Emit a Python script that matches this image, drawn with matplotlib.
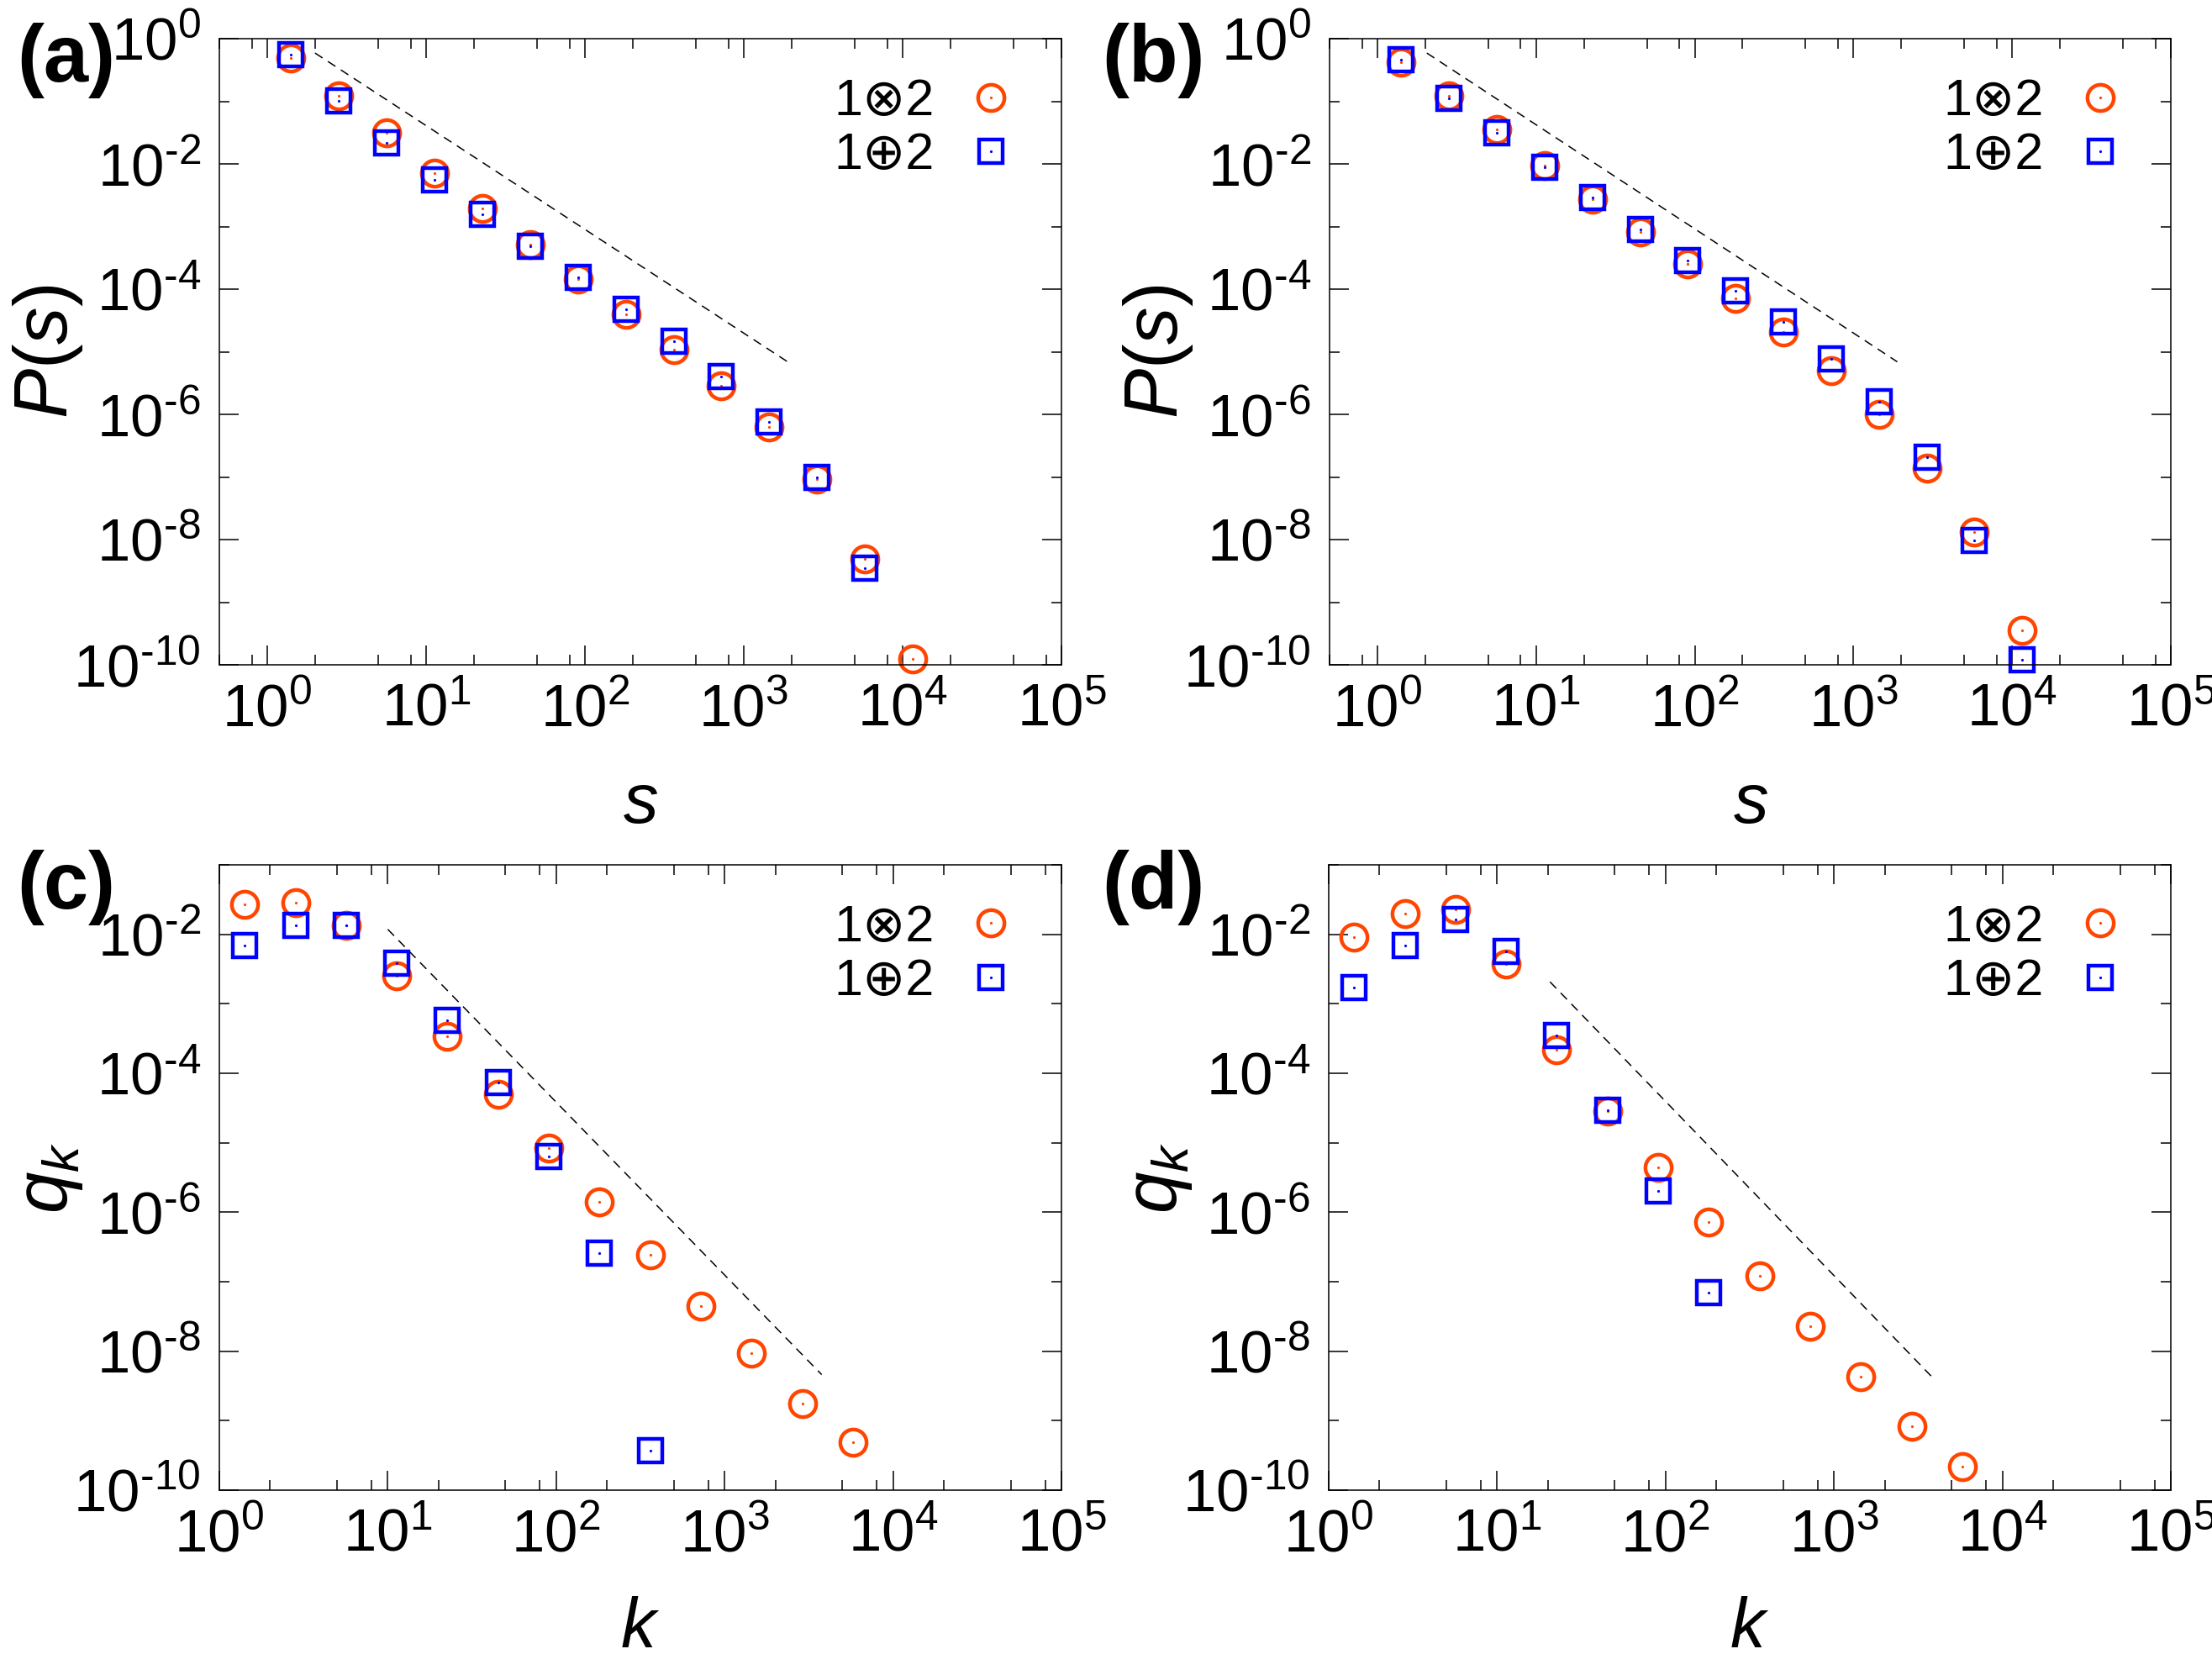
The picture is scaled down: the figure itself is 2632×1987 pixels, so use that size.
import matplotlib
matplotlib.use('Agg')
import matplotlib.pyplot as plt
from matplotlib import ticker
from matplotlib.legend_handler import HandlerTuple
import numpy as np

plt.rcParams['font.family'] = ['Liberation Sans', 'DejaVu Sans']
plt.rcParams['mathtext.fontset'] = 'custom'
plt.rcParams['mathtext.rm'] = 'Liberation Sans'
plt.rcParams['mathtext.it'] = 'Liberation Sans:italic'
plt.rcParams['mathtext.bf'] = 'Liberation Sans:bold'

# bin centres (log bins, factor 2)
bins = [1.41, 2.83, 5.66, 11.3, 22.6, 45.3, 90.5, 181, 362, 724, 1448, 2896, 5793, 11585]

# (a) P(s)
a_otimes = [0.484, 0.123, 0.0313, 7.2e-3, 1.95e-3, 5.1e-4, 1.45e-4, 4.0e-5, 1.07e-5,
            2.9e-6, 6.3e-7, 9.3e-8, 4.9e-9, 1.23e-10]
a_oplus = [0.55, 0.102, 0.0219, 5.6e-3, 1.55e-3, 4.9e-4, 1.55e-4, 4.7e-5, 1.45e-5,
           4.0e-6, 7.6e-7, 9.8e-8, 3.5e-9]
a_guide_x = [2.0, 1890]
a_guide_y = [0.59, 6.9e-6]

# (b) P(s)
b_otimes = [0.427, 0.123, 0.0355, 9.3e-3, 2.75e-3, 8.3e-4, 2.5e-4, 7.2e-5, 2.04e-5,
            5.0e-6, 1.0e-6, 1.38e-7, 1.32e-8, 3.6e-10]
b_oplus = [0.457, 0.112, 0.0309, 8.9e-3, 2.9e-3, 8.9e-4, 2.9e-4, 9.3e-5, 2.95e-5,
           7.6e-6, 1.58e-6, 2.04e-7, 9.8e-9, 1.2e-10]
b_guide_x = [2.05, 1890]
b_guide_y = [0.59, 6.9e-6]

# (c) q_k
c_otimes = [0.0267, 0.0286, 0.0136, 2.5e-3, 3.4e-4, 5.0e-5, 8.3e-6, 1.41e-6, 2.45e-7,
            4.4e-8, 9.3e-9, 1.78e-9, 4.9e-10]
c_oplus = [6.9e-3, 0.0136, 0.0136, 3.8e-3, 5.75e-4, 7.4e-5, 6.3e-6, 2.6e-7, 3.7e-10]
c_guide_x = [10, 3770]
c_guide_y = [0.0118, 4.6e-9]

# (d) q_k
d_otimes = [9.2e-3, 0.0201, 0.0231, 3.77e-3, 2.16e-4, 2.85e-5, 4.4e-6, 7.3e-7, 1.2e-7,
            2.3e-8, 4.3e-9, 8.2e-10, 2.2e-10]
d_oplus = [1.7e-3, 6.9e-3, 0.0162, 5.6e-3, 3.5e-4, 2.95e-5, 2.04e-6, 6.9e-8]
d_guide_x = [20.6, 3840]
d_guide_y = [2.07e-3, 4.2e-9]

labels = ['1\u22972', '1\u22952']
orange = '#FF4500'
blue = '#0000FF'

W, H = 2632, 1987
fig = plt.figure(figsize=(W / 100, H / 100), dpi=100)


def px_axes(left, top, right, bottom):
    return fig.add_axes([left / W, 1 - bottom / H, (right - left) / W, (bottom - top) / H])


def pow10(v, pos):
    e = int(round(np.log10(v)))
    if e < 0:
        return r'$\mathregular{10^{\text{-}%d}}$' % (-e)
    return r'$\mathregular{10^{%d}}$' % e


panels = [
    dict(box=(261, 46, 1263, 791), y1=a_otimes, y2=a_oplus, gx=a_guide_x, gy=a_guide_y,
         xlim=(0.5, 1e5), ylim=(1e-10, 1), xl=r'$s$', yl=r'$P(s)$', tag='(a)', tagpos=(20, 72)),
    dict(box=(1582, 46, 2583, 791), y1=b_otimes, y2=b_oplus, gx=b_guide_x, gy=b_guide_y,
         xlim=(0.5, 1e5), ylim=(1e-10, 1), xl=r'$s$', yl=r'$P(s)$', tag='(b)', tagpos=(1311, 72)),
    dict(box=(261, 1029, 1263, 1773), y1=c_otimes, y2=c_oplus, gx=c_guide_x, gy=c_guide_y,
         xlim=(1, 1e5), ylim=(1e-10, 1e-1), xl=r'$k$', yl=r'$q_k$', tag='(c)', tagpos=(20, 1056)),
    dict(box=(1581, 1029, 2583, 1773), y1=d_otimes, y2=d_oplus, gx=d_guide_x, gy=d_guide_y,
         xlim=(1, 1e5), ylim=(1e-10, 1e-1), xl=r'$k$', yl=r'$q_k$', tag='(d)', tagpos=(1311, 1056)),
]

for p in panels:
    ax = px_axes(*p['box'])
    ax.set_xscale('log')
    ax.set_yscale('log')
    ax.set_xlim(*p['xlim'])
    ax.set_ylim(*p['ylim'])

    ax.plot(p['gx'], p['gy'], color='black', lw=1.1, ls=(0, (7, 5)))

    x1 = bins[:len(p['y1'])]
    x2 = bins[:len(p['y2'])]
    c1, = ax.plot(x1, p['y1'], 'o', ms=22.5, mfc='none', mec=orange, mew=3.2, clip_on=False)
    d1, = ax.plot(x1, p['y1'], 'o', ms=2.3, mfc=orange, mec='none', clip_on=False)
    c2, = ax.plot(x2, p['y2'], 's', ms=20, mfc='none', mec=blue, mew=3.2, clip_on=False)
    d2, = ax.plot(x2, p['y2'], 'o', ms=2.3, mfc=blue, mec='none', clip_on=False)

    ax.legend([(c1, d1), (c2, d2)], labels, handler_map={tuple: HandlerTuple(ndivide=1)},
              loc='upper right', bbox_to_anchor=(0.947, 0.937), borderaxespad=0, borderpad=0,
              frameon=False, markerfirst=False, handlelength=1.0, handletextpad=0.6,
              labelspacing=0.12, prop={'size': 44, 'family': ['Liberation Sans', 'DejaVu Sans']})

    ax.xaxis.set_major_locator(ticker.LogLocator(base=10, numticks=20))
    ax.xaxis.set_minor_locator(ticker.LogLocator(base=10, subs=(2, 5, 8), numticks=20))
    ax.yaxis.set_major_locator(ticker.LogLocator(base=100, numticks=20))
    ax.yaxis.set_minor_locator(ticker.LogLocator(base=100, subs=(10,), numticks=20))
    ax.xaxis.set_major_formatter(ticker.FuncFormatter(pow10))
    ax.yaxis.set_major_formatter(ticker.FuncFormatter(pow10))
    ax.xaxis.set_minor_formatter(ticker.NullFormatter())
    ax.yaxis.set_minor_formatter(ticker.NullFormatter())

    ax.tick_params(which='both', direction='in', top=True, right=True, width=1.1, labelsize=51)
    ax.tick_params(which='major', length=16.5, pad=16)
    ax.tick_params(which='minor', length=8.6)
    for s in ax.spines.values():
        s.set_linewidth(1.1)

    ax.set_xlabel(p['xl'], fontsize=60)
    ax.set_ylabel(p['yl'], fontsize=64)
    ax.xaxis.set_label_coords(0.5, -0.17)
    ax.yaxis.set_label_coords(-0.16, 0.5)

    tx, ty = p['tagpos']
    fig.text(tx / W, 1 - ty / H, p['tag'], fontsize=69, fontweight='bold', ha='left', va='center')

fig.savefig('out.png', dpi=100)
